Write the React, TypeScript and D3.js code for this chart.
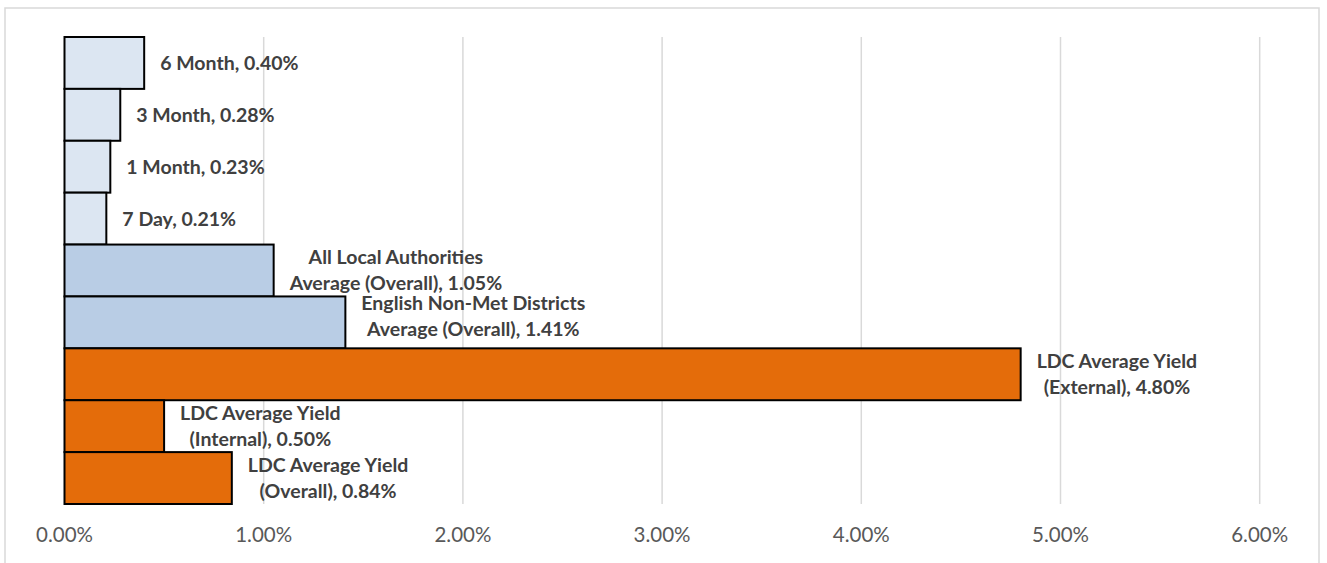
import React, { useEffect, useRef } from "react";
import * as d3 from "d3";

const categories = [
  "6 Month",
  "3 Month",
  "1 Month",
  "7 Day",
  "All Local Authorities Average (Overall)",
  "English Non-Met Districts Average (Overall)",
  "LDC Average Yield (External)",
  "LDC Average Yield (Internal)",
  "LDC Average Yield (Overall)",
];
const labelFirstLines = ["", "", "", "", "All Local Authorities", "English Non-Met Districts", "LDC Average Yield", "LDC Average Yield", "LDC Average Yield"];
const labelSecondLines = ["6 Month", "3 Month", "1 Month", "7 Day", "Average (Overall)", "Average (Overall)", "(External)", "(Internal)", "(Overall)"];
const values = [0.40, 0.28, 0.23, 0.21, 1.05, 1.41, 4.80, 0.50, 0.84];
const groups = ["benchmark", "benchmark", "benchmark", "benchmark", "average", "average", "ldc", "ldc", "ldc"];
const xTicks = [0, 1, 2, 3, 4, 5, 6];

const W = 1327;
const H = 563;

export default function App() {
  const ref = useRef<SVGSVGElement>(null);

  useEffect(() => {
    const svg = d3.select(ref.current);
    svg.selectAll("*").remove();

    const left = 64.5, right = 1259.7, top = 37, bottom = 504;
    const x = d3.scaleLinear().domain([0, 6]).range([left, right]);
    const y = d3.scaleBand<string>().domain(categories).range([top, bottom]).padding(0);
    const color = d3.scaleOrdinal<string, string>()
      .domain(["benchmark", "average", "ldc"])
      .range(["#DCE6F2", "#B9CDE5", "#E46C0A"]);

    // outer frame
    svg.append("rect")
      .attr("x", 5).attr("y", 8).attr("width", 1314).attr("height", 600)
      .attr("fill", "#fff").attr("stroke", "#d9d9d9").attr("stroke-width", 1.5);

    // gridlines
    svg.append("g").selectAll("line")
      .data(xTicks.filter((t) => t > 0))
      .join("line")
      .attr("x1", (d) => x(d)).attr("x2", (d) => x(d))
      .attr("y1", top).attr("y2", bottom)
      .attr("stroke", "#d9d9d9").attr("stroke-width", 1.5);

    // tick labels
    svg.append("g").selectAll("text")
      .data(xTicks)
      .join("text")
      .attr("x", (d) => x(d)).attr("y", 542)
      .attr("text-anchor", "middle")
      .attr("font-family", "Lato, sans-serif")
      .attr("font-size", 20.5)
      .attr("fill", "#595959")
      .text((d) => d3.format(".2f")(d) + "%");

    // bars
    svg.append("g").selectAll("rect")
      .data(categories)
      .join("rect")
      .attr("x", x(0))
      .attr("y", (d) => y(d)!)
      .attr("width", (_, i) => x(values[i]) - x(0))
      .attr("height", y.bandwidth())
      .attr("fill", (_, i) => color(groups[i]))
      .attr("stroke", "#000").attr("stroke-width", 2);

    // labels
    const lblG = svg.append("g");
    const lineH = 26;
    categories.forEach((c, i) => {
      const shift = i === 5 ? -6 : i === 4 ? -1 : 0;
      const cy = y(c)! + y.bandwidth() / 2 + shift;
      const x0 = x(values[i]) + 16;
      const second = labelSecondLines[i] + ", " + d3.format(".2f")(values[i]) + "%";
      const lines = labelFirstLines[i] ? [labelFirstLines[i], second] : [second];
      const t = lblG.append("text")
        .attr("font-family", "Lato, sans-serif")
        .attr("font-weight", "bold")
        .attr("font-size", 19.5)
        .attr("fill", "#404040");
      const n = lines.length;
      const spans = lines.map((ln, k) =>
        t.append("tspan")
          .attr("x", x0)
          .attr("y", cy + (k - (n - 1) / 2) * lineH + 7)
          .text(ln)
      );
      const widths = spans.map((s) => (s.node() as SVGTSpanElement).getComputedTextLength());
      const maxW = Math.max(...widths);
      spans.forEach((s, k) => s.attr("x", x0 + (maxW - widths[k]) / 2));
    });
  }, []);

  return (
    <svg
      ref={ref}
      width={W}
      height={H}
      style={{ position: "absolute", left: 0, top: 0, background: "#fff" }}
    />
  );
}
